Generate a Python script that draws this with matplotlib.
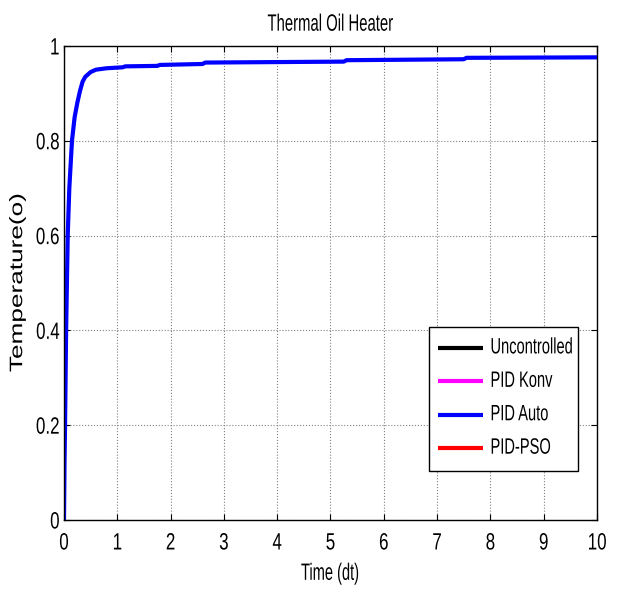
import matplotlib
matplotlib.use("Agg")
import numpy as np
from matplotlib import pyplot as plt
from matplotlib import patheffects as pe
from matplotlib.patches import Rectangle
from matplotlib.transforms import Affine2D

# PID Auto response
time_dt = [0, 0.01, 0.02, 0.04, 0.07, 0.1, 0.15, 0.2, 0.25, 0.3, 0.35, 0.4,
           0.5, 0.6, 0.8, 1.1, 1.15, 1.75, 1.8, 2.6, 2.65, 5.25, 5.3,
           7.5, 7.55, 10]
pid_auto = [0, 0.12, 0.2, 0.4, 0.6, 0.7, 0.8, 0.85, 0.88, 0.905, 0.925, 0.935,
            0.945, 0.95, 0.953, 0.955, 0.957, 0.958, 0.960, 0.962, 0.965,
            0.967, 0.970, 0.972, 0.975, 0.976]

series_names = ["Uncontrolled", "PID Konv", "PID Auto", "PID-PSO"]
series_colors = ["black", "#ff00ff", "#0000ff", "#ff0000"]

x_ticks = np.arange(0, 11, 1)
y_ticks = [0, 0.2, 0.4, 0.6, 0.8, 1]
y_tick_labels = ["0", "0.2", "0.4", "0.6", "0.8", "1"]


class Squeeze(pe.AbstractPathEffect):
    """Scale a text path about its anchor, to mimic a narrow font."""

    def __init__(self, sx=1.0, sy=1.0, anchor="center"):
        super().__init__()
        self.sx, self.sy, self.anchor = sx, sy, anchor

    def draw_path(self, renderer, gc, tpath, affine, rgbFace=None):
        box = tpath.get_extents(affine)
        cx = {"left": box.x0, "right": box.x1}.get(self.anchor, (box.x0 + box.x1) / 2)
        cy = (box.y0 + box.y1) / 2
        squeeze = Affine2D().translate(-cx, -cy).scale(self.sx, self.sy).translate(cx, cy)
        renderer.draw_path(gc, tpath, affine + squeeze, rgbFace)


font = "Liberation Sans"

fig = plt.figure(figsize=(6.17, 5.94), dpi=100)
ax = fig.add_axes([0.1037, 0.1246, 0.8639, 0.798])

ax.plot(time_dt, pid_auto, color=series_colors[2], linewidth=3)

ax.set_xlim(0, 10)
ax.set_ylim(0, 1)
ax.set_xticks(x_ticks)
ax.set_yticks(y_ticks)
ax.set_yticklabels(y_tick_labels)
ax.grid(True, color="#808080", linestyle=":", linewidth=0.8)
ax.tick_params(direction="in", top=True, right=True, length=4)
ax.tick_params(axis="x", pad=9)
ax.tick_params(axis="y", pad=3)
for lab in ax.get_xticklabels():
    lab.set_family(font)
    lab.set_fontsize(17)
    lab.set_path_effects([Squeeze(sx=0.72)])
for lab in ax.get_yticklabels():
    lab.set_family(font)
    lab.set_fontsize(17)
    lab.set_path_effects([Squeeze(sx=0.72, anchor="right")])
for sp in ax.spines.values():
    sp.set_linewidth(1.0)

title = ax.set_title("Thermal Oil Heater", family=font, fontsize=17, pad=11)
title.set_path_effects([Squeeze(sx=0.63)])
xlab = ax.set_xlabel("Time (dt)", family=font, fontsize=17, labelpad=6)
xlab.set_path_effects([Squeeze(sx=0.62)])
ylab = ax.set_ylabel("Temperature(o)", family=font, fontsize=13)
ylab.set_path_effects([Squeeze(sy=1.45)])
ax.yaxis.set_label_coords(-0.071, 0.5)

# legend drawn by hand so the narrow labels get a snug frame
ax.add_patch(Rectangle((0.685, 0.103), 0.279, 0.304, transform=ax.transAxes,
                       facecolor="white", edgecolor="black", linewidth=1.0,
                       zorder=5))
for i, (name, color) in enumerate(zip(series_names, series_colors)):
    y = 0.363 - i * 0.0705
    ax.plot([0.701, 0.786], [y, y], color=color, linewidth=3,
            transform=ax.transAxes, zorder=6, solid_capstyle="butt")
    txt = ax.text(0.799, y, name, transform=ax.transAxes, family=font,
                  fontsize=16, va="center", ha="left", zorder=6)
    txt.set_path_effects([Squeeze(sx=0.66, anchor="left")])

fig.savefig("out.png", dpi=100)
